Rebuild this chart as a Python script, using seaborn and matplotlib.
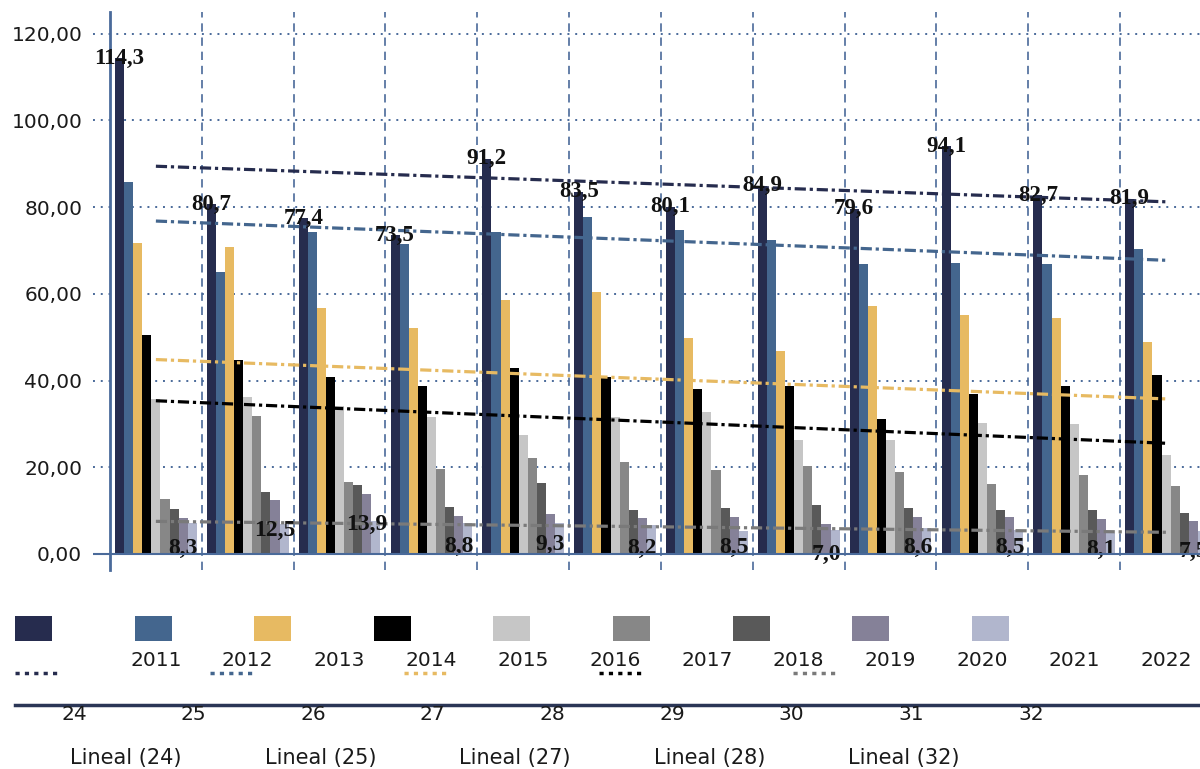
import numpy as np
import pandas as pd
import matplotlib
matplotlib.use('Agg')
import matplotlib.pyplot as plt
import seaborn as sns
from matplotlib.lines import Line2D
from matplotlib.patches import Rectangle

#%% data
years = ['2011', '2012', '2013', '2014', '2015', '2016',
         '2017', '2018', '2019', '2020', '2021', '2022']
series_names = ['24', '25', '26', '27', '28', '29', '30', '31', '32']

s24 = [114.3, 80.7, 77.4, 73.5, 91.2, 83.5, 80.1, 84.9, 79.6, 94.1, 82.7, 81.9]
s25 = [85.8, 65.1, 74.3, 71.5, 74.3, 77.7, 74.7, 72.4, 66.9, 67.1, 66.9, 70.4]
s26 = [71.7, 70.8, 56.7, 52.1, 58.6, 60.4, 49.8, 46.8, 57.2, 55.1, 54.4, 48.9]
s27 = [50.5, 44.8, 40.8, 38.8, 42.9, 40.8, 38.1, 38.8, 31.1, 36.9, 38.8, 41.3]
s28 = [35.8, 36.2, 34.1, 31.6, 27.5, 31.6, 32.8, 26.3, 26.3, 30.2, 30.0, 22.8]
s29 = [12.7, 31.8, 16.5, 19.6, 22.1, 21.2, 19.4, 20.3, 18.9, 16.1, 18.2, 15.7]
s30 = [10.4, 14.2, 16.0, 10.8, 16.4, 10.2, 10.6, 11.3, 10.6, 10.2, 10.2, 9.5]
s31 = [8.3, 12.5, 13.9, 8.8, 9.3, 8.2, 8.5, 7.0, 8.6, 8.5, 8.1, 7.5]
s32 = [7.2, 7.0, 7.5, 7.1, 7.1, 6.7, 5.3, 5.5, 6.0, 5.5, 4.9, 5.3]
all_series = [s24, s25, s26, s27, s28, s29, s30, s31, s32]

bar_colors = ['#262C4E', '#44668E', '#E7BA62', '#000000', '#C6C6C6',
              '#878787', '#595959', '#858198', '#B1B6CD']

# linear trend lines: which series, and the colour used for each
trend_series = ['24', '25', '27', '28', '32']
trend_colors = ['#262C4E', '#44668E', '#E7BA62', '#000000', '#7A7A7A']

y_ticks = [0, 20, 40, 60, 80, 100, 120]

#%% long table for seaborn
df = pd.DataFrame({
    'year': np.tile(years, len(series_names)),
    'serie': np.repeat(series_names, len(years)),
    'value': np.concatenate(all_series),
})

W, H = 1200, 769
fig = plt.figure(figsize=(W / 100, H / 100), dpi=100)
ax = fig.add_axes([93 / W, 1 - 570 / H, (W - 93) / W, 558 / H])

sns.barplot(data=df, x='year', y='value', hue='serie', order=years,
            hue_order=series_names, palette=bar_colors, width=0.89,
            saturation=1, legend=False, ax=ax)

# trend lines
x_num = np.arange(len(years))
for name, col in zip(trend_series, trend_colors):
    vals = all_series[series_names.index(name)]
    sns.regplot(x=x_num, y=vals, scatter=False, ci=None, truncate=True, ax=ax,
                line_kws=dict(color=col, lw=2.3, linestyle=(0, (3.5, 1.2, 1, 1.2))))

# data labels (series 24 on top, series 31 near the base)
lab_font = dict(family='Liberation Serif', weight='bold', color='#111111')
for patch, v in zip(ax.containers[0], s24):
    ax.text(patch.get_x() + patch.get_width() / 2, patch.get_height(),
            f'{v:.1f}'.replace('.', ','), ha='center', va='center',
            fontsize=16.5, **lab_font)
for patch, v in zip(ax.containers[7], s31):
    ax.text(patch.get_x() + patch.get_width() / 2, patch.get_height() - 7,
            f'{v:.1f}'.replace('.', ','), ha='center', va='center',
            fontsize=17, **lab_font)

#%% axes styling
grid_col = '#4A6A9A'
ax.set_xlim(-0.5 - 17 / 92, len(years) - 0.5 - 12 / 92)
ax.set_ylim(-3.7, 125)
ax.set_yticks(y_ticks)
ax.set_yticklabels([f'{t:.2f}'.replace('.', ',') for t in y_ticks])
for t in y_ticks[1:]:
    ax.axhline(t, color=grid_col, lw=1.4, linestyle=(0, (1, 3)), zorder=0)
ax.axhline(0, color=grid_col, lw=1.5, zorder=3)
for xb in np.arange(0.5, len(years) - 1, 1):
    ax.axvline(xb, color=grid_col, lw=1.2, linestyle=(0, (5, 3.5)), zorder=0)

for sp in ['top', 'right', 'bottom']:
    ax.spines[sp].set_visible(False)
ax.spines['left'].set_position(('data', -0.5))
ax.spines['left'].set_color(grid_col)
ax.spines['left'].set_linewidth(2)

ax.set_xlabel('')
ax.set_ylabel('')
ax.tick_params(axis='y', length=0, pad=20, labelsize=14.5, labelcolor='#1a1a1a')
ax.tick_params(axis='x', length=0, pad=58, labelsize=14.5, labelcolor='#1a1a1a')
ax.patch.set_alpha(0)

#%% legend, drawn by hand like the original
def fx(px):
    return px / W

def fy(py):
    return 1 - py / H

for i, col in enumerate(bar_colors):
    x0 = 15 + 119.6 * i
    fig.add_artist(Rectangle((fx(x0), fy(641)), 37 / W, 25 / H,
                             transform=fig.transFigure, color=col, lw=0))
    fig.text(fx(74 + 119.6 * i), fy(715), series_names[i], ha='center',
             va='center', fontsize=14.5, color='#1a1a1a')

for i, (name, col) in enumerate(zip(trend_series, trend_colors)):
    x0 = 15 + 194.5 * i
    fig.add_artist(Line2D([fx(x0), fx(x0 + 43)], [fy(673), fy(673)],
                          transform=fig.transFigure, color=col, lw=2.5,
                          linestyle=(0, (1.2, 1.5))))
    fig.text(fx(126 + 194.5 * i), fy(758), f'Lineal ({name})', ha='center',
             va='center', fontsize=15, color='#1a1a1a')

fig.add_artist(Line2D([fx(15), fx(1200)], [fy(705), fy(705)],
                      transform=fig.transFigure, color='#2B3656', lw=2.5))

plt.savefig('out.png', dpi=100)
